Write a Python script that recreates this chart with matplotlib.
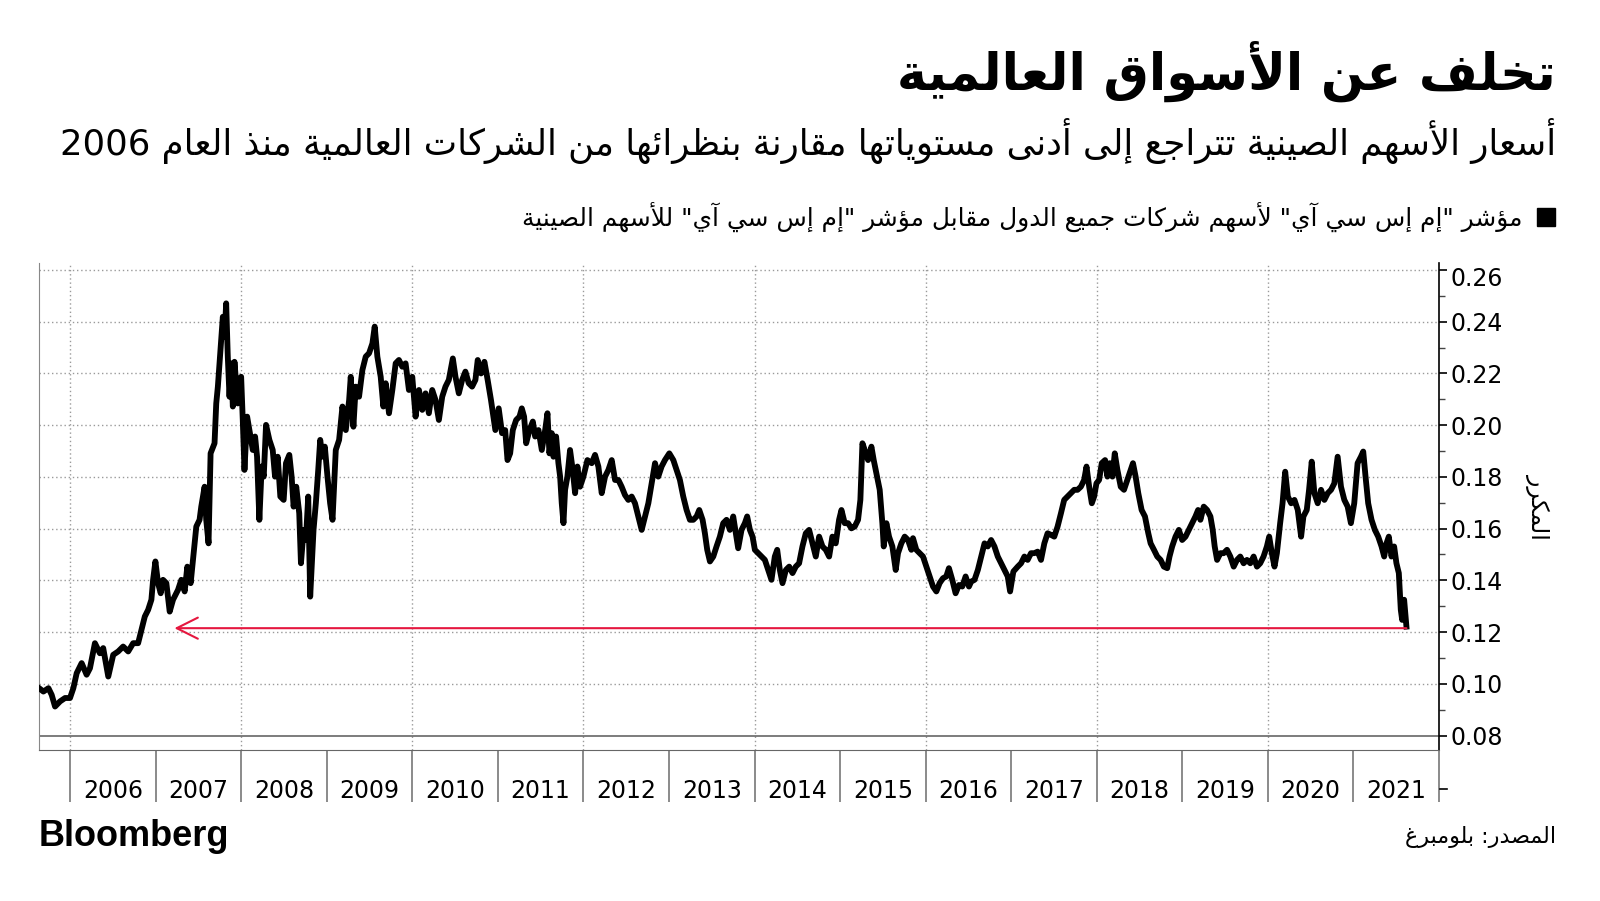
import re
import matplotlib
matplotlib.use("Agg")
import matplotlib.pyplot as plt
from matplotlib.patches import Rectangle
from matplotlib.lines import Line2D
from matplotlib.transforms import ScaledTranslation

# Text (logical Arabic order, shaped before drawing)
title_text = "تخلف عن الأسواق العالمية"
subtitle_text = "أسعار الأسهم الصينية تتراجع إلى أدنى مستوياتها مقارنة بنظرائها من الشركات العالمية منذ العام 2006"
legend_text = 'مؤشر "إم إس سي آي" لأسهم شركات جميع الدول مقابل مؤشر "إم إس سي آي" للأسهم الصينية'
ylabel_text = "المكرر"
source_text = "المصدر: بلومبرغ"

year_labels = [str(y) for y in range(2006, 2022)]
y_ticks = [0.08, 0.10, 0.12, 0.14, 0.16, 0.18, 0.20, 0.22, 0.24, 0.26]
floor_level = 0.1215

# MSCI ACWI vs MSCI China ratio (decimal years)
years_a = [2005.639, 2005.689, 2005.748, 2005.786, 2005.825, 2005.884, 2005.942, 2006.000, 2006.039, 2006.078,
           2006.136, 2006.194, 2006.233, 2006.291, 2006.349, 2006.388, 2006.447, 2006.505, 2006.563, 2006.621,
           2006.680, 2006.738, 2006.796, 2006.835, 2006.874, 2006.913, 2006.951, 2006.971, 2006.998, 2007.029,
           2007.060, 2007.087, 2007.126, 2007.165, 2007.204, 2007.262, 2007.301, 2007.340, 2007.371, 2007.410,
           2007.437, 2007.476, 2007.514, 2007.534, 2007.573, 2007.592, 2007.619, 2007.643, 2007.689, 2007.709,
           2007.728, 2007.747, 2007.786, 2007.806, 2007.825, 2007.844, 2007.864, 2007.883, 2007.903, 2007.922,
           2007.961, 2008.000, 2008.019, 2008.039, 2008.070, 2008.097, 2008.136, 2008.163, 2008.186, 2008.213,
           2008.240, 2008.264, 2008.291, 2008.330, 2008.369, 2008.396, 2008.427, 2008.458, 2008.497, 2008.524,
           2008.563, 2008.590, 2008.613, 2008.644, 2008.679, 2008.699, 2008.730, 2008.757, 2008.784, 2008.807,
           2008.846, 2008.873, 2008.901, 2008.924, 2008.951, 2008.978, 2009.009, 2009.040, 2009.068, 2009.106,
           2009.145, 2009.184, 2009.223, 2009.262, 2009.281, 2009.312, 2009.339, 2009.378, 2009.417, 2009.456,
           2009.495, 2009.534, 2009.561, 2009.592, 2009.631, 2009.662, 2009.689, 2009.728, 2009.767, 2009.806,
           2009.844, 2009.883, 2009.922, 2009.961, 2010.000, 2010.039, 2010.078, 2010.117, 2010.155, 2010.194,
           2010.233, 2010.272, 2010.311, 2010.350, 2010.388, 2010.427, 2010.474, 2010.505, 2010.544, 2010.583,
           2010.621, 2010.660, 2010.699, 2010.738, 2010.765, 2010.804, 2010.843, 2010.881, 2010.920, 2010.971,
           2011.010, 2011.049]
ratio_a = [0.0983, 0.0970, 0.0983, 0.0957, 0.0912, 0.0932, 0.0945, 0.0945, 0.0983, 0.1041,
           0.1080, 0.1035, 0.1060, 0.1157, 0.1118, 0.1138, 0.1028, 0.1112, 0.1125, 0.1144,
           0.1125, 0.1157, 0.1157, 0.1209, 0.1260, 0.1286, 0.1325, 0.1402, 0.1473, 0.1389,
           0.1350, 0.1402, 0.1389, 0.1279, 0.1325, 0.1363, 0.1402, 0.1357, 0.1453, 0.1389,
           0.1479, 0.1608, 0.1634, 0.1685, 0.1762, 0.1634, 0.1543, 0.1891, 0.1930, 0.2084,
           0.2149, 0.2239, 0.2419, 0.2342, 0.2471, 0.2265, 0.2110, 0.2239, 0.2072, 0.2245,
           0.2084, 0.2187, 0.2020, 0.1827, 0.2033, 0.1981, 0.1904, 0.1956, 0.1878, 0.1634,
           0.1840, 0.1801, 0.2001, 0.1943, 0.1904, 0.1801, 0.1878, 0.1724, 0.1711, 0.1853,
           0.1885, 0.1801, 0.1685, 0.1762, 0.1659, 0.1466, 0.1595, 0.1556, 0.1724, 0.1337,
           0.1595, 0.1698, 0.1827, 0.1943, 0.1878, 0.1917, 0.1801, 0.1698, 0.1634, 0.1904,
           0.1943, 0.2072, 0.1981, 0.2097, 0.2187, 0.1994, 0.2149, 0.2110, 0.2213, 0.2265,
           0.2278, 0.2316, 0.2381, 0.2265, 0.2187, 0.2072, 0.2162, 0.2046, 0.2136, 0.2239,
           0.2252, 0.2226, 0.2239, 0.2136, 0.2187, 0.2033, 0.2136, 0.2059, 0.2123, 0.2046,
           0.2136, 0.2097, 0.2020, 0.2110, 0.2149, 0.2175, 0.2258, 0.2187, 0.2123, 0.2175,
           0.2207, 0.2162, 0.2149, 0.2175, 0.2252, 0.2200, 0.2245, 0.2175, 0.2097, 0.1981,
           0.2065, 0.1969]

years_b = [2011.086, 2011.113, 2011.144, 2011.175, 2011.214, 2011.253, 2011.280, 2011.307, 2011.331, 2011.370,
           2011.409, 2011.436, 2011.475, 2011.514, 2011.553, 2011.580, 2011.603, 2011.630, 2011.650, 2011.681,
           2011.708, 2011.728, 2011.747, 2011.767, 2011.786, 2011.813, 2011.844, 2011.875, 2011.903, 2011.930,
           2011.961, 2012.000, 2012.047, 2012.097, 2012.136, 2012.175, 2012.214, 2012.253, 2012.292, 2012.331,
           2012.370, 2012.409, 2012.447, 2012.486, 2012.525, 2012.564, 2012.603, 2012.642, 2012.681, 2012.720,
           2012.759, 2012.798, 2012.837, 2012.875, 2012.914, 2012.953, 2013.004, 2013.051, 2013.089, 2013.128,
           2013.167, 2013.206, 2013.245, 2013.284, 2013.323, 2013.354, 2013.393, 2013.420, 2013.447, 2013.479,
           2013.518, 2013.556, 2013.595, 2013.634, 2013.673, 2013.712, 2013.751, 2013.782, 2013.809, 2013.848,
           2013.887, 2013.914, 2013.946, 2013.977, 2014.004, 2014.043, 2014.082, 2014.121, 2014.160, 2014.198,
           2014.237, 2014.265, 2014.296, 2014.327, 2014.366, 2014.405, 2014.444, 2014.482, 2014.521, 2014.560,
           2014.599, 2014.638, 2014.677, 2014.716, 2014.755, 2014.794, 2014.833, 2014.872, 2014.910, 2014.949,
           2014.988, 2015.016, 2015.054, 2015.093, 2015.132, 2015.171, 2015.210, 2015.237, 2015.261, 2015.288,
           2015.327, 2015.366, 2015.393, 2015.424, 2015.463, 2015.494, 2015.510, 2015.541, 2015.572, 2015.611,
           2015.650, 2015.677, 2015.716, 2015.755, 2015.794, 2015.833, 2015.852, 2015.891, 2015.930, 2015.969,
           2016.008, 2016.047, 2016.086, 2016.125, 2016.163, 2016.202, 2016.241, 2016.272, 2016.311, 2016.350,
           2016.389, 2016.428, 2016.467, 2016.506]
ratio_b = [0.1981, 0.1865, 0.1891, 0.1981, 0.2020, 0.2033, 0.2065, 0.2033, 0.1930, 0.1981,
           0.2014, 0.1956, 0.1981, 0.1904, 0.1981, 0.2046, 0.1891, 0.1969, 0.1878, 0.1956,
           0.1853, 0.1801, 0.1698, 0.1621, 0.1750, 0.1801, 0.1904, 0.1827, 0.1737, 0.1840,
           0.1762, 0.1801, 0.1865, 0.1853, 0.1885, 0.1840, 0.1737, 0.1801, 0.1827, 0.1865,
           0.1788, 0.1788, 0.1762, 0.1730, 0.1711, 0.1724, 0.1698, 0.1647, 0.1595, 0.1647,
           0.1698, 0.1775, 0.1853, 0.1801, 0.1840, 0.1865, 0.1891, 0.1865, 0.1827, 0.1788,
           0.1724, 0.1672, 0.1634, 0.1634, 0.1647, 0.1672, 0.1634, 0.1582, 0.1518, 0.1473,
           0.1492, 0.1531, 0.1569, 0.1621, 0.1634, 0.1595, 0.1647, 0.1582, 0.1524, 0.1595,
           0.1621, 0.1647, 0.1595, 0.1569, 0.1518, 0.1505, 0.1492, 0.1479, 0.1440, 0.1402,
           0.1492, 0.1518, 0.1440, 0.1389, 0.1440, 0.1453, 0.1428, 0.1453, 0.1466, 0.1531,
           0.1582, 0.1595, 0.1543, 0.1492, 0.1569, 0.1531, 0.1518, 0.1492, 0.1569, 0.1543,
           0.1634, 0.1672, 0.1621, 0.1621, 0.1601, 0.1608, 0.1634, 0.1711, 0.1930, 0.1904,
           0.1865, 0.1917, 0.1865, 0.1814, 0.1750, 0.1621, 0.1531, 0.1621, 0.1569, 0.1531,
           0.1440, 0.1505, 0.1543, 0.1569, 0.1556, 0.1518, 0.1563, 0.1518, 0.1505, 0.1492,
           0.1453, 0.1415, 0.1376, 0.1357, 0.1389, 0.1408, 0.1415, 0.1447, 0.1402, 0.1350,
           0.1382, 0.1376, 0.1415, 0.1376]

years_c = [2016.532, 2016.571, 2016.610, 2016.649, 2016.688, 2016.726, 2016.765, 2016.804, 2016.843, 2016.882,
           2016.921, 2016.959, 2016.987, 2017.025, 2017.076, 2017.115, 2017.154, 2017.192, 2017.231, 2017.270,
           2017.309, 2017.348, 2017.387, 2017.425, 2017.464, 2017.503, 2017.542, 2017.581, 2017.619, 2017.658,
           2017.697, 2017.736, 2017.775, 2017.814, 2017.852, 2017.880, 2017.911, 2017.942, 2017.969, 2017.996,
           2018.027, 2018.058, 2018.097, 2018.124, 2018.151, 2018.183, 2018.210, 2018.241, 2018.280, 2018.318,
           2018.357, 2018.396, 2018.423, 2018.454, 2018.485, 2018.524, 2018.563, 2018.602, 2018.629, 2018.668,
           2018.707, 2018.746, 2018.784, 2018.823, 2018.850, 2018.881, 2018.920, 2018.959, 2018.998, 2019.037,
           2019.076, 2019.114, 2019.153, 2019.184, 2019.211, 2019.250, 2019.289, 2019.328, 2019.355, 2019.378,
           2019.406, 2019.444, 2019.483, 2019.522, 2019.561, 2019.600, 2019.639, 2019.677, 2019.716, 2019.755,
           2019.794, 2019.833, 2019.872, 2019.910, 2019.949, 2019.988, 2020.015, 2020.046, 2020.077, 2020.105,
           2020.143, 2020.171, 2020.202, 2020.233, 2020.272, 2020.310, 2020.349, 2020.388, 2020.415, 2020.454,
           2020.481, 2020.512, 2020.543, 2020.582, 2020.621, 2020.660, 2020.699, 2020.738, 2020.776, 2020.815,
           2020.854, 2020.893, 2020.932, 2020.970, 2021.009, 2021.048, 2021.087, 2021.114, 2021.141, 2021.172,
           2021.211, 2021.250, 2021.289, 2021.328, 2021.359, 2021.386, 2021.413, 2021.444, 2021.475, 2021.502,
           2021.530, 2021.553, 2021.569, 2021.592, 2021.619]
ratio_c = [0.1395, 0.1402, 0.1440, 0.1492, 0.1543, 0.1531, 0.1556, 0.1531, 0.1492, 0.1466,
           0.1440, 0.1415, 0.1357, 0.1434, 0.1453, 0.1466, 0.1492, 0.1479, 0.1505, 0.1505,
           0.1511, 0.1479, 0.1543, 0.1582, 0.1576, 0.1569, 0.1608, 0.1659, 0.1711, 0.1724,
           0.1737, 0.1750, 0.1750, 0.1762, 0.1788, 0.1840, 0.1762, 0.1698, 0.1724, 0.1775,
           0.1788, 0.1853, 0.1865, 0.1801, 0.1853, 0.1801, 0.1891, 0.1827, 0.1762, 0.1750,
           0.1788, 0.1827, 0.1853, 0.1801, 0.1737, 0.1672, 0.1647, 0.1582, 0.1543, 0.1518,
           0.1492, 0.1479, 0.1453, 0.1447, 0.1492, 0.1531, 0.1569, 0.1595, 0.1556, 0.1569,
           0.1595, 0.1621, 0.1647, 0.1672, 0.1634, 0.1685, 0.1672, 0.1647, 0.1595, 0.1531,
           0.1479, 0.1505, 0.1505, 0.1518, 0.1492, 0.1453, 0.1479, 0.1492, 0.1466, 0.1479,
           0.1466, 0.1492, 0.1453, 0.1466, 0.1492, 0.1531, 0.1569, 0.1505, 0.1453, 0.1505,
           0.1621, 0.1698, 0.1820, 0.1724, 0.1698, 0.1711, 0.1672, 0.1569, 0.1647, 0.1672,
           0.1750, 0.1859, 0.1737, 0.1698, 0.1750, 0.1711, 0.1737, 0.1750, 0.1775, 0.1878,
           0.1762, 0.1711, 0.1685, 0.1621, 0.1698, 0.1853, 0.1878, 0.1898, 0.1801, 0.1698,
           0.1634, 0.1595, 0.1569, 0.1531, 0.1492, 0.1543, 0.1569, 0.1492, 0.1531, 0.1466,
           0.1428, 0.1286, 0.1247, 0.1325, 0.1221]

years = years_a + years_b + years_c
ratio = ratio_a + ratio_b + ratio_c


# --- minimal Arabic shaping: contextual forms + RTL visual order ---
# base presentation-form code point and number of forms (iso, fin, ini, med)
AR_FORMS = {
    'ء': (0xFE80, 1), 'آ': (0xFE81, 2), 'أ': (0xFE83, 2), 'ؤ': (0xFE85, 2), 'إ': (0xFE87, 2),
    'ئ': (0xFE89, 4), 'ا': (0xFE8D, 2), 'ب': (0xFE8F, 4), 'ة': (0xFE93, 2), 'ت': (0xFE95, 4),
    'ث': (0xFE99, 4), 'ج': (0xFE9D, 4), 'ح': (0xFEA1, 4), 'خ': (0xFEA5, 4), 'د': (0xFEA9, 2),
    'ذ': (0xFEAB, 2), 'ر': (0xFEAD, 2), 'ز': (0xFEAF, 2), 'س': (0xFEB1, 4), 'ش': (0xFEB5, 4),
    'ص': (0xFEB9, 4), 'ض': (0xFEBD, 4), 'ط': (0xFEC1, 4), 'ظ': (0xFEC5, 4), 'ع': (0xFEC9, 4),
    'غ': (0xFECD, 4), 'ف': (0xFED1, 4), 'ق': (0xFED5, 4), 'ك': (0xFED9, 4), 'ل': (0xFEDD, 4),
    'م': (0xFEE1, 4), 'ن': (0xFEE5, 4), 'ه': (0xFEE9, 4), 'و': (0xFEED, 2), 'ى': (0xFEEF, 2),
    'ي': (0xFEF1, 4),
}
LAM_ALEF = {'آ': 0xFEF5, 'أ': 0xFEF7, 'إ': 0xFEF9, 'ا': 0xFEFB}


def shape(text):
    out = []
    i = 0
    prev_joins = False
    while i < len(text):
        c = text[i]
        if c == 'ل' and i + 1 < len(text) and text[i + 1] in LAM_ALEF:
            base = LAM_ALEF[text[i + 1]]
            out.append(chr(base + 1 if prev_joins else base))
            prev_joins = False
            i += 2
            continue
        if c not in AR_FORMS:
            out.append(c)
            prev_joins = False
            i += 1
            continue
        base, n = AR_FORMS[c]
        nxt = text[i + 1] if i + 1 < len(text) else ''
        joins_next = n == 4 and nxt in AR_FORMS and AR_FORMS[nxt][1] > 1
        if n == 1:
            form = 0
        elif prev_joins and joins_next:
            form = 3
        elif prev_joins:
            form = 1
        elif joins_next:
            form = 2
        else:
            form = 0
        out.append(chr(base + form))
        prev_joins = joins_next
        i += 1
    vis = ''.join(out)[::-1]
    # keep digit / latin runs left-to-right
    return re.sub(r'[0-9A-Za-z.]+', lambda m: m.group(0)[::-1], vis)


AR_FONT = ['DejaVu Sans']

fig = plt.figure(figsize=(16, 9.01), dpi=100)
ax = fig.add_axes([0.0244, 0.1676, 0.875, 0.5405])

ax.plot(years, ratio, color='black', lw=4.2, solid_joinstyle='round', zorder=3)

ax.annotate('', xy=(2007.22, floor_level), xytext=(years[-1], floor_level),
            arrowprops=dict(arrowstyle='->', color='#e5173f', lw=1.5, mutation_scale=38,
                            shrinkA=0, shrinkB=0), zorder=4)

ax.set_xlim(2005.638, 2022.0)
ax.set_ylim(0.0744, 0.2627)

# grid
for yv in y_ticks[1:]:
    ax.axhline(yv, color='#9a9a9a', lw=1, ls=(0, (1, 2)), zorder=1)
for xv in range(2006, 2022, 2):
    ax.axvline(xv, color='#9a9a9a', lw=1, ls=(0, (1, 2)), zorder=1)
ax.axhline(0.08, color='#666666', lw=1.2, zorder=1)

# spines
ax.spines['top'].set_visible(False)
ax.spines['left'].set_color('#888888')
ax.spines['bottom'].set_color('#666666')
ax.spines['right'].set_color('black')
ax.spines['right'].set_linewidth(1.2)

# y axis on the right
ax.yaxis.tick_right()
ax.set_yticks(y_ticks)
ax.set_yticklabels(['%.2f' % v for v in y_ticks])
ax.set_yticks([v + 0.01 for v in y_ticks[:-1]], minor=True)
ax.tick_params(axis='y', which='major', direction='out', length=6, width=1.2, pad=2,
               labelsize=17, colors='black')
ax.tick_params(axis='y', which='minor', direction='out', length=4, width=1, color='#444444')
# the top label sits a little below its gridline, as in the original
top_lbl = ax.get_yticklabels()[-1]
top_lbl.set_transform(top_lbl.get_transform() + ScaledTranslation(0, -5 / 72, fig.dpi_scale_trans))

# x axis: year separators + centered labels
ax.set_xticks(list(range(2006, 2023)))
ax.set_xticklabels([])
ax.set_xticks([int(y) + 0.5 for y in year_labels], minor=True)
ax.set_xticklabels(year_labels, minor=True)
ax.tick_params(axis='x', which='major', direction='out', length=37.5, width=1.2, color='#777777')
ax.tick_params(axis='x', which='minor', length=0, pad=21, labelsize=17)

fig.add_artist(Line2D([1440 / 1600, 1447 / 1600], [1 - 789 / 901, 1 - 789 / 901],
                      color='black', lw=1.2))

ax.text(1.071, 0.5, shape(ylabel_text), transform=ax.transAxes, rotation=270,
        ha='center', va='center', fontsize=17, family=AR_FONT)

# header texts
fig.text(0.9725, 0.9206, shape(title_text), ha='right', va='center',
         fontsize=36.5, fontweight='bold', family=AR_FONT)
fig.text(0.9725, 0.8435, shape(subtitle_text), ha='right', va='center',
         fontsize=25.6, family=AR_FONT)
fig.add_artist(Rectangle((1537 / 1600, 1 - 226 / 901), 18 / 1600, 18 / 901,
                         transform=fig.transFigure, color='black'))
fig.text(1523 / 1600, 1 - 217 / 901, shape(legend_text), ha='right', va='center',
         fontsize=17.9, family=AR_FONT)

# footer
fig.text(0.0244, 1 - 837 / 901, 'Bloomberg', ha='left', va='center',
         fontsize=26, fontweight='heavy', family=['Liberation Sans'])
fig.text(0.9725, 1 - 837 / 901, shape(source_text), ha='right', va='center',
         fontsize=16, family=AR_FONT)

fig.savefig('out.png', dpi=100, facecolor='white')
